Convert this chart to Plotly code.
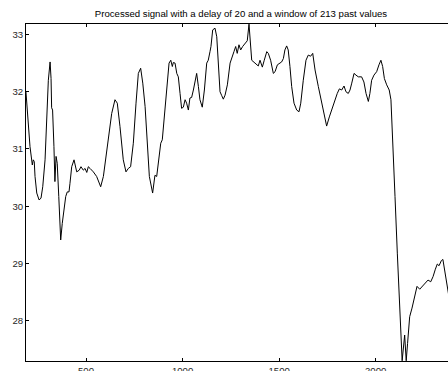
import plotly.graph_objects as go

# Sample index (x) and processed signal value (y)
sample_index = [
    189, 201, 210, 222, 227, 232, 236, 245, 257, 267, 276, 288, 296, 305, 314, 319, 322, 327, 334, 339,
    345, 351, 359, 369, 377, 386, 395, 403, 412, 417, 426, 438, 452, 465, 474, 486, 495, 504, 512, 521,
    538, 555, 567, 576, 590, 610, 633, 650, 662, 676, 693, 707, 719, 731, 745, 759, 771, 783, 794, 806,
    817, 828, 845, 857, 866, 874, 887, 895, 904, 918, 930, 939, 947, 952, 961, 970, 978, 987, 995, 1004,
    1013, 1021, 1030, 1038, 1047, 1056, 1064, 1073, 1082, 1090, 1102, 1113, 1125, 1133, 1142, 1147, 1156, 1168, 1177, 1185,
    1194, 1203, 1211, 1220, 1232, 1246, 1258, 1266, 1275, 1283, 1292, 1301, 1311, 1323, 1335, 1344, 1349, 1358, 1375, 1392,
    1401, 1413, 1423, 1436, 1444, 1456, 1470, 1479, 1491, 1505, 1513, 1522, 1530, 1539, 1547, 1556, 1565, 1577, 1591, 1603,
    1612, 1625, 1639, 1651, 1663, 1674, 1686, 1703, 1717, 1729, 1746, 1760, 1775, 1789, 1801, 1812, 1824, 1836, 1846, 1858,
    1867, 1876, 1888, 1898, 1910, 1927, 1939, 1950, 1962, 1970, 1979, 1991, 2005, 2017, 2027, 2036, 2045, 2057, 2070, 2079,
    2088, 2100, 2112, 2126, 2133, 2137, 2150, 2158, 2165, 2176, 2188, 2202, 2214, 2228, 2241, 2257, 2271, 2285, 2297, 2309,
    2319, 2328, 2340, 2348, 2360, 2371, 2385,
]
signal_value = [
    32.00, 31.50, 31.04, 30.72, 30.81, 30.78, 30.52, 30.23, 30.11, 30.14, 30.34, 30.81, 31.39, 32.20, 32.52, 32.23, 31.72, 31.68, 31.04, 30.43,
    30.87, 30.75, 30.17, 29.41, 29.70, 29.93, 30.17, 30.25, 30.25, 30.40, 30.69, 30.81, 30.60, 30.63, 30.69, 30.63, 30.66, 30.59, 30.69, 30.66,
    30.60, 30.52, 30.40, 30.34, 30.52, 31.04, 31.62, 31.86, 31.80, 31.39, 30.81, 30.60, 30.66, 30.69, 31.10, 31.80, 32.32, 32.41, 32.15, 31.74,
    31.04, 30.52, 30.23, 30.54, 30.52, 30.75, 31.10, 31.16, 31.50, 31.97, 32.50, 32.55, 32.44, 32.51, 32.50, 32.32, 32.26, 31.97, 31.71, 31.73,
    31.86, 31.80, 31.68, 31.89, 31.90, 32.03, 32.20, 32.32, 32.09, 31.86, 31.73, 32.03, 32.50, 32.55, 32.70, 32.79, 33.08, 33.11, 32.96, 32.38,
    32.00, 31.93, 31.87, 31.94, 32.12, 32.50, 32.64, 32.70, 32.79, 32.67, 32.82, 32.73, 32.79, 32.85, 32.89, 33.18, 32.96, 32.55, 32.50, 32.45,
    32.55, 32.43, 32.55, 32.70, 32.67, 32.55, 32.32, 32.35, 32.47, 32.50, 32.52, 32.58, 32.73, 32.80, 32.73, 32.44, 32.09, 31.80, 31.68, 31.65,
    31.80, 32.20, 32.55, 32.64, 32.62, 32.67, 32.38, 32.09, 31.86, 31.62, 31.40, 31.56, 31.71, 31.89, 31.97, 32.05, 32.03, 32.10, 32.00, 31.97,
    32.03, 32.15, 32.32, 32.29, 32.26, 32.26, 32.17, 31.97, 31.83, 31.97, 32.20, 32.29, 32.35, 32.47, 32.55, 32.44, 32.23, 32.12, 32.03, 31.86,
    31.21, 30.17, 29.18, 28.13, 27.50, 27.30, 27.75, 27.30, 27.60, 28.07, 28.22, 28.42, 28.60, 28.55, 28.60, 28.66, 28.71, 28.68, 28.77, 28.90,
    28.99, 28.96, 29.05, 29.07, 28.83, 28.54, 28.30,
]

x_ticks = [500, 1000, 1500, 2000]
y_ticks = [28, 29, 30, 31, 32, 33]
title_text = "Processed signal with a delay of 20 and a window of 213 past values"

FONT = "Liberation Sans, Arial, sans-serif"
TXT = "#262626"

W, H = 448, 371

fig = go.Figure()
fig.add_trace(go.Scatter(
    x=sample_index, y=signal_value, mode="lines",
    line=dict(color="black", width=1), hoverinfo="skip", showlegend=False,
))

fig.update_layout(
    width=W, height=H,
    margin=dict(l=26, r=0, t=24, b=10, autoexpand=False),
    paper_bgcolor="white", plot_bgcolor="white",
    font=dict(family=FONT, size=9.6, color=TXT),
    title=dict(text=title_text, x=241 / W, xref="container", xanchor="center",
               y=1 - 14 / H, yref="container", yanchor="middle",
               font=dict(family=FONT, size=9.6, color="black")),
    showlegend=False,
    hovermode=False,
)
fig.update_xaxes(
    range=[189.3, 2374.4], tickvals=x_ticks, ticktext=[str(v) for v in x_ticks],
    showgrid=False, zeroline=False, showline=True, linecolor="black", linewidth=1,
    mirror="ticks", ticks="inside", ticklen=3, tickcolor="black", tickwidth=1,
    automargin=False, tickfont=dict(family=FONT, size=9.6, color=TXT),
)
fig.update_yaxes(
    range=[27.296, 33.183], tickvals=y_ticks, ticktext=[str(v) for v in y_ticks],
    showgrid=False, zeroline=False, showline=True, linecolor="black", linewidth=1,
    ticks="inside", ticklen=3, tickcolor="black", tickwidth=1,
    automargin=False, tickfont=dict(family=FONT, size=9.6, color=TXT),
)

# Remove the browser's default page margin so the figure fills the window exactly
fig.write_html(
    "out.html",
    config={"displayModeBar": False},
    post_script="document.body.style.margin='0';document.documentElement.style.overflow='hidden';",
)
